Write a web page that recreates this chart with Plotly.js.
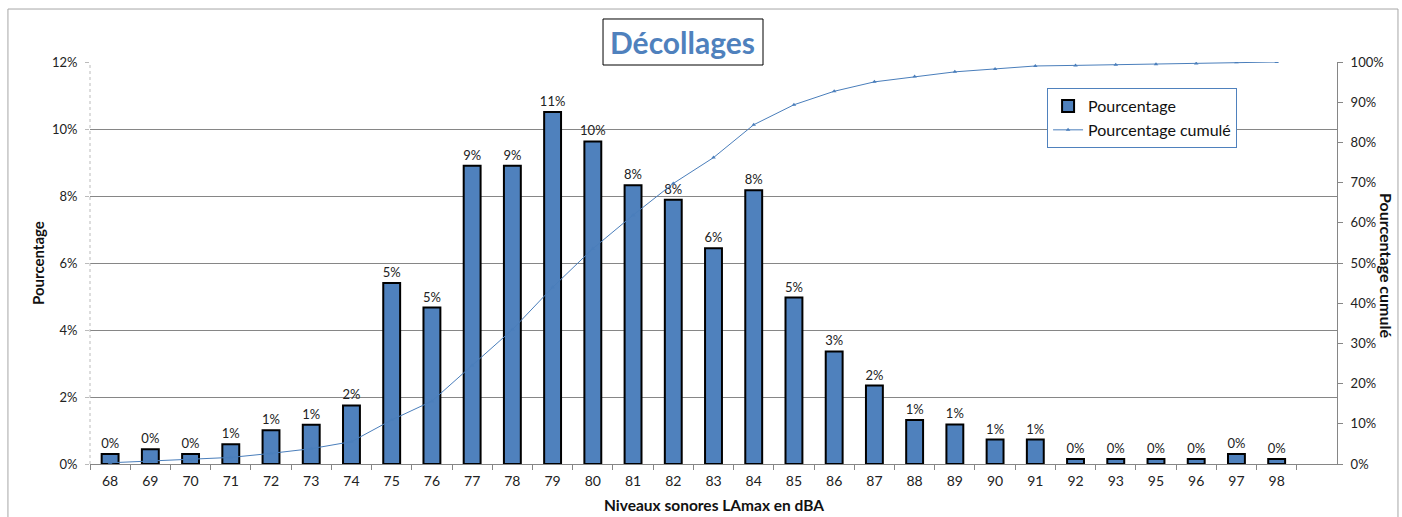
<!DOCTYPE html>
<html>
<head>
<meta charset="utf-8">
<script src="https://cdn.plot.ly/plotly-3.0.1.min.js"></script>
<style>html,body{margin:0;padding:0;background:#fff;}#chart{width:1402px;height:517px;}</style>
</head>
<body>
<div id="chart"></div>
<script>
// Noise levels (dBA) — category labels
const levels = ['68','69','70','71','72','73','74','75','76','77','78','79','80','81','82','83','84','85','86','87','88','89','90','91','92','93','95','96','97','98'];
// Percentage per level (fraction)
const pourcentage = [0.0030,0.0044,0.0030,0.0059,0.0101,0.0117,0.0175,0.0540,0.0467,0.0890,0.0890,0.1051,0.0963,0.0832,0.0789,0.0644,0.0817,0.0497,0.0336,0.0234,0.0131,0.0118,0.0073,0.0073,0.0015,0.0015,0.0015,0.0015,0.0030,0.0015];
// Cumulative percentage (fraction)
const cumule = [0.0030,0.0074,0.0104,0.0163,0.0264,0.0381,0.0556,0.1096,0.1563,0.2453,0.3343,0.4394,0.5357,0.6189,0.6978,0.7622,0.8439,0.8936,0.9272,0.9506,0.9637,0.9755,0.9828,0.9901,0.9916,0.9931,0.9946,0.9961,0.9991,1.0000];

const FONT = 'Lato, "Open Sans", sans-serif';
const BLUE = '#4F81BD';

const traces = [
  {
    type: 'bar', name: 'Pourcentage', x: levels, y: pourcentage,
    marker: {color: BLUE, line: {color: '#000', width: 2}},
    width: 0.42,
    texttemplate: '%{y:.0%}', textposition: 'outside', constraintext: 'none',
    textfont: {family: FONT, size: 13, color: '#222'},
    cliponaxis: false, hoverinfo: 'x+y'
  },
  {
    type: 'scatter', mode: 'lines+markers', name: 'Pourcentage cumulé',
    x: levels, y: cumule, yaxis: 'y2',
    line: {color: '#4A7EBB', width: 1},
    marker: {symbol: 'triangle-up', size: 4, color: '#4A7EBB'}
  }
];

const layout = {
  width: 1402, height: 517,
  margin: {l: 90, r: 65, t: 62, b: 53},
  paper_bgcolor: '#fff', plot_bgcolor: '#fff',
  font: {family: FONT, size: 13, color: '#222'},
  showlegend: true,
  legend: {
    x: 0.7675, y: 0.935, xanchor: 'left', yanchor: 'top',
    bordercolor: BLUE, borderwidth: 1, bgcolor: '#fff',
    font: {family: FONT, size: 16, color: '#111'},
    tracegroupgap: 0, itemwidth: 30
  },
  xaxis: {
    type: 'category', range: [-0.5, 30.5],
    showline: true, linecolor: '#868686', linewidth: 1,
    ticks: 'outside', tickson: 'boundaries', ticklen: 5, tickcolor: '#868686',
    ticklabelstandoff: 4,
    showgrid: false, zeroline: false,
    tickfont: {family: FONT, size: 14, color: '#222'}
  },
  yaxis: {
    range: [0, 0.12], dtick: 0.02, tickformat: '.0%',
    showgrid: true, gridcolor: '#868686', gridwidth: 1,
    showline: false,
    ticks: 'outside', ticklen: 4, tickcolor: '#BBBBBB',
    ticklabelstandoff: 5,
    zeroline: false,
    tickfont: {family: FONT, size: 13, color: '#222'}
  },
  yaxis2: {
    overlaying: 'y', side: 'right',
    range: [0, 1], dtick: 0.1, tickformat: '.0%',
    showgrid: false, zeroline: false,
    showline: true, linecolor: '#868686', linewidth: 1,
    ticks: 'outside', ticklen: 5, tickcolor: '#868686',
    ticklabelstandoff: 5,
    tickfont: {family: FONT, size: 13, color: '#222'}
  },
  shapes: [
    {type: 'rect', xref: 'paper', yref: 'paper', x0: -0.0658, x1: 1.0489, y0: -0.2, y1: 1.1318,
     line: {color: '#A6A6A6', width: 1}, fillcolor: 'rgba(0,0,0,0)', layer: 'below'},
    {type: 'rect', xref: 'paper', yref: 'paper', x0: 0.4114, x1: 0.5397, y0: 0.9925, y1: 1.1070,
     line: {color: '#000', width: 1}, fillcolor: '#fff', layer: 'above'},
    {type: 'line', xref: 'paper', yref: 'paper', x0: 0, x1: 0, y0: 0, y1: 1,
     line: {color: '#BBBBBB', width: 1, dash: 'dot'}, layer: 'above'}
  ],
  annotations: [
    {text: '<b>Décollages</b>', xref: 'paper', yref: 'paper', x: 0.4755, y: 1.0498,
     xanchor: 'center', yanchor: 'middle', showarrow: false,
     font: {family: FONT, size: 30, color: BLUE}},
    {text: '<b>Pourcentage</b>', xref: 'paper', yref: 'paper', x: -0.0417, y: 0.5,
     xanchor: 'center', yanchor: 'middle', showarrow: false, textangle: -90,
     font: {family: FONT, size: 15, color: '#111'}},
    {text: '<b>Pourcentage cumulé</b>', xref: 'paper', yref: 'paper', x: 1.0401, y: 0.495,
     xanchor: 'center', yanchor: 'middle', showarrow: false, textangle: 90,
     font: {family: FONT, size: 16, color: '#111'}},
    {text: '<b>Niveaux sonores LAmax en dBA</b>', xref: 'paper', yref: 'paper', x: 0.5, y: -0.102,
     xanchor: 'center', yanchor: 'middle', showarrow: false,
     font: {family: FONT, size: 15.5, color: '#111'}}
  ]
};

Plotly.newPlot('chart', traces, layout, {displayModeBar: false, staticPlot: true});
</script>
</body>
</html>
